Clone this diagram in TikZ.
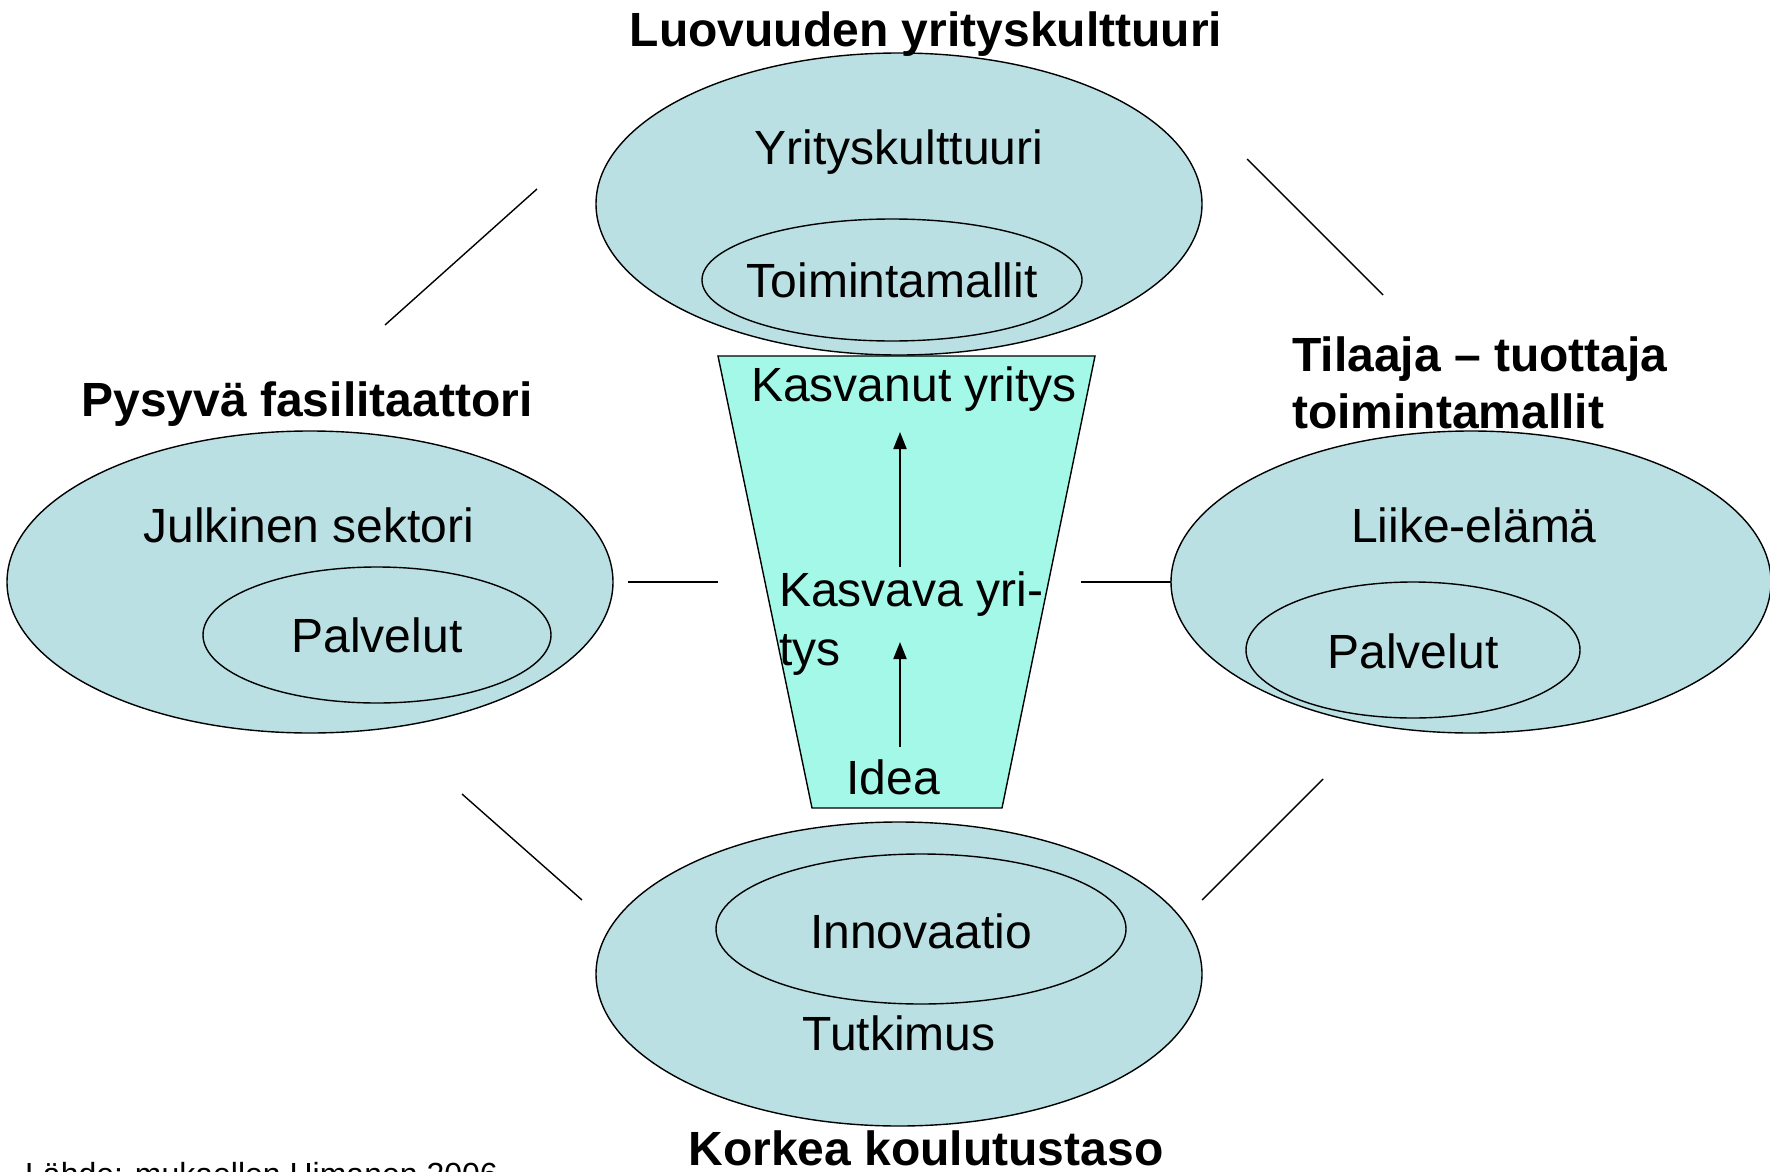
\documentclass[tikz,border=0pt]{standalone}
\usepackage{fontspec}
\setmainfont{Liberation Sans}
\usetikzlibrary{shapes.geometric,arrows.meta}
\definecolor{ellfill}{HTML}{BAE0E3}
\definecolor{trapfill}{HTML}{A4F8E8}
\tikzset{
  outer/.style={ellipse,draw=black,line width=1.4pt,fill=ellfill,inner sep=0pt},
  inner/.style={ellipse,draw=black,line width=1.4pt,inner sep=0pt},
  lbl/.style={font=\fontsize{48}{56}\selectfont,inner sep=0pt,anchor=base},
  ttl/.style={font=\fontsize{48}{56}\selectfont\bfseries,inner sep=0pt,anchor=base},
  link/.style={line width=1.4pt},
  up/.style={line width=2pt,-{Triangle[length=17pt,width=13pt]}}
}
\begin{document}
\begin{tikzpicture}[x=1pt,y=-1pt]
\useasboundingbox (0,0) rectangle (1770,1172);
% ellipses
\node[outer,minimum width=606pt,minimum height=302pt] (top) at (899,204) {};
\node[inner,minimum width=380pt,minimum height=122pt] (topin) at (892,280) {};
\node[outer,minimum width=606pt,minimum height=302pt] (left) at (310,582) {};
\node[inner,minimum width=348pt,minimum height=136pt] (leftin) at (377,635) {};
\node[outer,minimum width=600pt,minimum height=302pt] (right) at (1471,582) {};
\node[inner,minimum width=334pt,minimum height=136pt] (rightin) at (1413,650) {};
\node[outer,minimum width=606pt,minimum height=304pt] (bot) at (899,974) {};
\node[inner,minimum width=410pt,minimum height=150pt] (botin) at (921,929) {};
% trapezoid
\coordinate (tl) at (718,356);
\coordinate (tr) at (1095,356);
\coordinate (br) at (1002,808);
\coordinate (bl) at (812,808);
\draw[line width=1.4pt,fill=trapfill] (tl) -- (tr) -- (br) -- (bl) -- cycle;
% labels
\node[lbl] (t1) at (899,164) {Yrityskulttuuri};
\node[lbl] (t2) at (892,297) {Toimintamallit};
\node[lbl] (l1) at (309,542) {Julkinen sektori};
\node[lbl] (l2) at (377,652) {Palvelut};
\node[lbl] (r1) at (1474,542) {Liike-elämä};
\node[lbl] (r2) at (1413,668) {Palvelut};
\node[lbl] (b1) at (921,948) {Innovaatio};
\node[lbl] (b2) at (899,1050) {Tutkimus};
\node[lbl] (k1) at (914,401) {Kasvanut yritys};
\node[lbl,anchor=base west] (kv1) at (779,606) {Kasvava yri-};
\node[lbl,anchor=base west] (kv2) at (779,665) {tys};
\node[lbl] (idea) at (893,794) {Idea};
% titles
\node[ttl] (T1) at (926,47) {Luovuuden yrityskulttuuri};
\node[ttl] (T2) at (307,416) {Pysyvä fasilitaattori};
\node[ttl,anchor=base west] (T3a) at (1292,371) {Tilaaja – tuottaja};
\node[ttl,anchor=base west] (T3b) at (1292,428) {toimintamallit};
\node[ttl] (T4) at (926,1165) {Korkea koulutustaso};
\node[font=\fontsize{32}{38}\selectfont,inner sep=0pt,anchor=base west] (src) at (25,1185) {Lähde: mukaellen Himanen 2006};
% arrows
\coordinate (a1s) at (900,567);
\coordinate (a1e) at (900,432);
\coordinate (a2s) at (900,747);
\coordinate (a2e) at (900,642);
\draw[up] (a1s) -- (a1e);
\draw[up] (a2s) -- (a2e);
% links
\coordinate (p1) at (385,325); \coordinate (p2) at (537,189);
\coordinate (p3) at (1247,159); \coordinate (p4) at (1383,295);
\coordinate (p5) at (628,582); \coordinate (p6) at (718,582);
\coordinate (p7) at (1081,582); \coordinate (p8) at (1171,582);
\coordinate (p9) at (462,794); \coordinate (p10) at (582,900);
\coordinate (p11) at (1323,779); \coordinate (p12) at (1202,900);
\draw[link] (p1) -- (p2);
\draw[link] (p3) -- (p4);
\draw[link] (p5) -- (p6);
\draw[link] (p7) -- (p8);
\draw[link] (p9) -- (p10);
\draw[link] (p11) -- (p12);
\end{tikzpicture}
\end{document}
